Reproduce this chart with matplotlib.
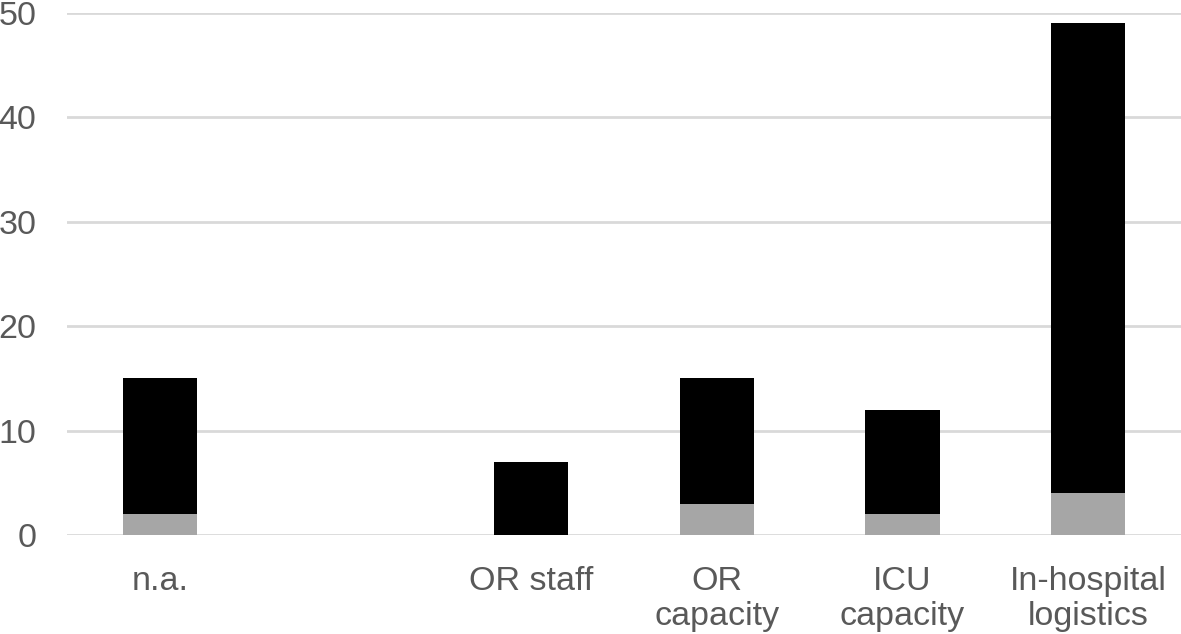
import matplotlib
matplotlib.use("Agg")
import matplotlib.pyplot as plt
import numpy as np

categories = ["n.a.", "", "OR staff", "OR\ncapacity", "ICU\ncapacity",
              "In-hospital\nlogistics"]
gray_vals = [2, 0, 0, 3, 2, 4]
black_vals = [13, 0, 7, 12, 10, 45]


def main():
    plt.rcParams["font.family"] = ["Liberation Sans", "DejaVu Sans"]
    fig = plt.figure(figsize=(11.81, 6.34), dpi=100)
    ax = fig.add_axes([67 / 1181, 1 - 535 / 634, (1181 - 67) / 1181,
                       (535 - 13) / 634])

    x = np.arange(len(categories))
    ax.bar(x, gray_vals, width=0.4, color="#a6a6a6", zorder=3)
    ax.bar(x, black_vals, width=0.4, bottom=gray_vals, color="#000000",
           zorder=3)

    ax.set_xlim(-0.5, len(categories) - 0.5)
    ax.set_ylim(0, 50)
    ax.set_yticks(range(0, 51, 10))
    ax.set_xticks(x)
    ax.set_xticklabels(categories, linespacing=1.2)
    ax.yaxis.grid(True, color="#d9d9d9", linewidth=2, zorder=0)
    ax.set_axisbelow(True)
    for s in ax.spines.values():
        s.set_visible(False)
    ax.tick_params(axis="both", length=0, labelsize=24.5, colors="#595959")
    ax.tick_params(axis="x", pad=22)
    ax.tick_params(axis="y", pad=22)
    for lab in ax.get_yticklabels():
        lab.set_clip_on(False)

    fig.savefig("out.png", dpi=100)


if __name__ == "__main__":
    main()
